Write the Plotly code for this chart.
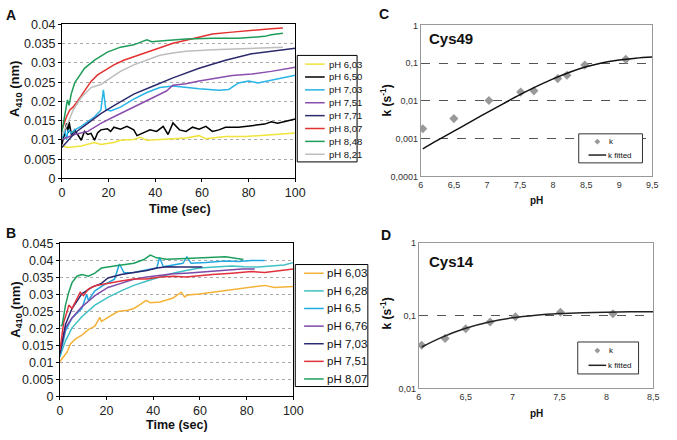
import plotly.graph_objects as go

W, H = 677, 440
FONT = "Liberation Sans"

# ---- panel A : absorbance vs time, Cys49 ----
a_labels = ["pH 6,03", "pH 6,50", "pH 7,03", "pH 7,51", "pH 7,71", "pH 8,07", "pH 8,48", "pH 8,21"]
a_colors = ["#f1e43a", "#000000", "#27b4e6", "#8a4fae", "#2c2a6c", "#e2312f", "#1e9c5a", "#bdbdbd"]
a_t = [
    [0, 2.7, 8.3, 13.9, 16.7, 22.3, 25.1, 30.8, 33.6, 36.4, 42, 47.6, 53.2, 58.8, 61.7, 70.1, 78.5, 86.9, 100],
    [0, 1.3, 2, 2.7, 3.1, 4.1, 5.5, 6.9, 8.3, 9.7, 11.1, 12.5, 14, 15.3, 16.7, 19.5, 20.9, 22.3, 25.1, 27.9,
     30.8, 32.2, 35, 37.8, 40.6, 43.4, 45.5, 47.6, 50.4, 53.2, 56, 58.8, 61.7, 64.5, 67.3, 70.1, 75.7, 81.3,
     86.9, 89.7, 92.5, 100],
    [0, 1.3, 2, 2.7, 4.1, 5.5, 8.3, 11.1, 14, 16.7, 17.8, 18.8, 20.9, 25.1, 30.8, 36.4, 42, 47.6, 53.2, 58.8,
     67.3, 71.5, 75.7, 80, 84, 91, 100],
    [0, 5.5, 11.1, 16.7, 22.3, 28, 33.6, 39.2, 44.8, 47.6, 53.2, 58.8, 64.5, 73, 81.3, 89.7, 100],
    [0, 5.5, 11.1, 16.7, 22.3, 30.8, 39.2, 47.6, 58.8, 70.1, 81.3, 89.7, 100],
    [0, 2, 3.4, 4.8, 6.9, 9.7, 12.5, 15.3, 19.5, 22.3, 26.5, 30.8, 36.4, 42, 47.6, 53.2, 58.8, 64.5, 73, 81.3,
     89.7, 94.7],
    [0, 1.3, 2.4, 3.1, 4, 5.5, 9.7, 14, 19.5, 25.1, 30.8, 36.4, 38.5, 44.8, 53.2, 64.5, 75.7, 86.9, 89.7, 94.7],
    [0, 1.3, 2.7, 4.8, 8.3, 12.5, 16.7, 20.9, 25.1, 30.8, 36.4, 42, 47.6, 53.2, 64.5, 75.7, 84, 94.7],
]
a_v = [
    [0.0084, 0.008, 0.0084, 0.0093, 0.0088, 0.0093, 0.0099, 0.0101, 0.0107, 0.0099, 0.0101, 0.0103, 0.0105,
     0.0111, 0.0103, 0.0109, 0.0109, 0.0112, 0.0118],
    [0.0088, 0.0118, 0.0143, 0.0118, 0.0147, 0.0114, 0.0126, 0.0114, 0.0099, 0.0122, 0.0114, 0.0117, 0.0099,
     0.0118, 0.0126, 0.0129, 0.0122, 0.0133, 0.0128, 0.0135, 0.0126, 0.0111, 0.0118, 0.0126, 0.0122, 0.0135,
     0.0114, 0.0144, 0.0126, 0.0122, 0.0133, 0.0128, 0.0135, 0.0122, 0.0126, 0.0133, 0.0133, 0.0137, 0.0141,
     0.0147, 0.0143, 0.0154],
    [0.0103, 0.0126, 0.0100, 0.0126, 0.0118, 0.0126, 0.0135, 0.0147, 0.016, 0.0177, 0.023, 0.018, 0.0175,
     0.0185, 0.0206, 0.0223, 0.0236, 0.024, 0.0236, 0.0233, 0.0229, 0.0231, 0.0248, 0.0253, 0.0248, 0.0257,
     0.0268],
    [0.0101, 0.0114, 0.0122, 0.0143, 0.016, 0.0177, 0.0194, 0.021, 0.0227, 0.0242, 0.0246, 0.0253, 0.0259,
     0.0267, 0.0271, 0.0278, 0.0289],
    [0.008, 0.0118, 0.0143, 0.0168, 0.0189, 0.0219, 0.024, 0.0261, 0.0286, 0.0307, 0.0324, 0.0331, 0.0338],
    [0.0126, 0.016, 0.0178, 0.0185, 0.0202, 0.0227, 0.0252, 0.0269, 0.0286, 0.0295, 0.0307, 0.0316, 0.0328,
     0.0341, 0.0351, 0.0359, 0.0366, 0.0375, 0.038, 0.0385, 0.0389, 0.0391],
    [0.012, 0.0168, 0.0204, 0.019, 0.0219, 0.0248, 0.0286, 0.0307, 0.0328, 0.0341, 0.0347, 0.036, 0.0355,
     0.0358, 0.0362, 0.0364, 0.0364, 0.0369, 0.0373, 0.0377],
    [0.011, 0.0126, 0.0145, 0.0177, 0.021, 0.0236, 0.0244, 0.0261, 0.0278, 0.0295, 0.0307, 0.032, 0.0326,
     0.033, 0.0334, 0.0337, 0.034, 0.0341],
]

# ---- panel B : absorbance vs time, Cys14 ----
b_labels = ["pH 6,03", "pH 6,28", "pH 6,5", "pH 6,76", "pH 7,03", "pH 7,51", "pH 8,07"]
b_colors = ["#f4b23a", "#3fc0c4", "#22a9e2", "#7b4aa8", "#2a2a70", "#e0313c", "#1e9e5e"]
b_t = [
    [0, 1.7, 3.1, 4.5, 6.6, 9.4, 12.2, 15, 17.1, 17.8, 20.6, 24.8, 29, 31.7, 34.5, 36.9, 38.7, 42.9, 48.5, 52,
     53.4, 54.8, 59.7, 66.7, 73.7, 82.1, 87.7, 91.9, 100],
    [0, 2.4, 5.2, 9.4, 15, 20.6, 26.2, 31.7, 37.3, 42.9, 48.5, 54, 59.7, 68, 73.7, 79, 85, 90.5, 96, 100],
    [0, 2.4, 5.2, 9.4, 11.5, 12.2, 15, 19.2, 23.4, 25.5, 27.5, 31.7, 37.3, 41.5, 42.7, 44.3, 48.5, 52.7, 54.4,
     56.2, 62.5, 71, 76.6, 82.1, 87.7],
    [0, 2.4, 5.2, 9.4, 15, 20.6, 26.2, 31.7, 37.3, 42.9, 48.5, 54, 62.5, 71, 78, 83.5],
    [0, 2.4, 5.2, 9.4, 13.6, 17.8, 20.6, 26.2, 31.7, 37.3, 41.5, 45.7, 51.3, 57, 61],
    [0, 1.7, 3.1, 3.8, 5.2, 6.6, 8.7, 10.1, 12.2, 15, 17.8, 22, 26.2, 31.7, 37.3, 42.9, 48.5, 54, 59.7, 65.3,
     73.7, 82.1, 87.7, 94.7, 100],
    [0.3, 1, 2.4, 3.8, 5.2, 7.3, 9.4, 12.2, 15, 17.8, 23.4, 31.7, 36, 38.7, 41.5, 45.7, 54, 62.5, 71, 78.6],
]
b_v = [
    [0.0102, 0.0116, 0.013, 0.0154, 0.0168, 0.018, 0.0196, 0.0206, 0.0232, 0.022, 0.0232, 0.0249, 0.0253,
     0.0258, 0.027, 0.0282, 0.0275, 0.0277, 0.0289, 0.0306, 0.0292, 0.0298, 0.0301, 0.0307, 0.0313, 0.032,
     0.0326, 0.032, 0.0323],
    [0.0116, 0.0163, 0.0201, 0.0234, 0.0268, 0.0291, 0.031, 0.0326, 0.0339, 0.0351, 0.0362, 0.037, 0.0377,
     0.0381, 0.0383, 0.0381, 0.038, 0.0383, 0.0386, 0.0393],
    [0.0115, 0.0192, 0.023, 0.0258, 0.030, 0.0282, 0.031, 0.0329, 0.0344, 0.0389, 0.0363, 0.0364, 0.0372,
     0.0377, 0.0408, 0.0381, 0.0386, 0.0391, 0.041, 0.0391, 0.0393, 0.0398, 0.0396, 0.0399, 0.0399],
    [0.0125, 0.0201, 0.023, 0.0263, 0.0296, 0.032, 0.0332, 0.0344, 0.0351, 0.0356, 0.036, 0.0362, 0.0367,
     0.037, 0.0374, 0.0374],
    [0.0125, 0.0211, 0.0258, 0.0301, 0.032, 0.0332, 0.0348, 0.0358, 0.0364, 0.037, 0.0377, 0.0381, 0.038,
     0.0381, 0.038],
    [0.0135, 0.022, 0.0249, 0.0268, 0.0258, 0.0277, 0.0306, 0.0296, 0.0315, 0.0325, 0.0329, 0.0334, 0.0339,
     0.0345, 0.0345, 0.0351, 0.0353, 0.0351, 0.0355, 0.0358, 0.0362, 0.0367, 0.0364, 0.037, 0.0374],
    [0.0206, 0.021, 0.0268, 0.0306, 0.0334, 0.0353, 0.0358, 0.0353, 0.0362, 0.0377, 0.0383, 0.0391, 0.0402,
     0.0415, 0.0407, 0.0403, 0.0405, 0.0408, 0.041, 0.0402],
]

# ---- panel C : rate constant vs pH, Cys49 ----
c_ph = [6.03, 6.50, 7.03, 7.51, 7.71, 8.07, 8.21, 8.48, 9.1]
c_k = [0.00184, 0.0034, 0.0103, 0.0171, 0.0185, 0.039, 0.048, 0.089, 0.126]
c_fit_ph = [6.03, 6.25, 6.5, 6.75, 7.0, 7.25, 7.5, 7.75, 8.0, 8.25, 8.5, 8.75, 9.0, 9.25, 9.5]
c_fit_k = [0.00054, 0.0009, 0.00158, 0.0028, 0.0049, 0.0085, 0.0146, 0.0242, 0.0384, 0.0576, 0.08,
           0.1024, 0.1216, 0.1358, 0.1455]

# ---- panel D : rate constant vs pH, Cys14 ----
d_ph = [6.03, 6.28, 6.5, 6.76, 7.03, 7.51, 8.07]
d_k = [0.0394, 0.0489, 0.0664, 0.0824, 0.097, 0.112, 0.107]
d_fit_ph = [6.03, 6.25, 6.5, 6.75, 7.0, 7.25, 7.5, 7.75, 8.0, 8.25, 8.5]
d_fit_k = [0.0372, 0.0509, 0.0673, 0.0822, 0.094, 0.1021, 0.1074, 0.1106, 0.1125, 0.1136, 0.1142]

time_ticks = [0, 20, 40, 60, 80, 100]
a_yticks = [0, 0.005, 0.01, 0.015, 0.02, 0.025, 0.03, 0.035, 0.04]
b_yticks = [0, 0.005, 0.01, 0.015, 0.02, 0.025, 0.03, 0.035, 0.04, 0.045]
c_xticks = [6, 6.5, 7, 7.5, 8, 8.5, 9, 9.5]
c_xtext = ["6", "6,5", "7", "7,5", "8", "8,5", "9", "9,5"]
d_xticks = [6, 6.5, 7, 7.5, 8, 8.5]
d_xtext = ["6", "6,5", "7", "7,5", "8", "8,5"]
c_yticks = [0.0001, 0.001, 0.01, 0.1, 1]
c_ytext = ["0,0001", "0,001", "0,01", "0,1", "1"]
d_yticks = [0.01, 0.1, 1]
d_ytext = ["0,01", "0,1", "1"]
k_labels = ["k", "k fitted"]


def px(x):
    return x / W


def py(y):
    return 1 - y / H


def xd(x0, x1):
    return [px(x0), px(x1)]


def yd(y_top, y_bot):
    return [py(y_bot), py(y_top)]


fig = go.Figure()

for i in range(len(a_labels)):
    fig.add_trace(go.Scatter(x=a_t[i], y=a_v[i], mode="lines", name=a_labels[i],
                             line=dict(color=a_colors[i], width=1.5), xaxis="x", yaxis="y"))
for i in range(len(b_labels)):
    fig.add_trace(go.Scatter(x=b_t[i], y=b_v[i], mode="lines", name=b_labels[i],
                             line=dict(color=b_colors[i], width=1.5), xaxis="x2", yaxis="y2"))

fig.add_trace(go.Scatter(x=c_ph, y=c_k, mode="markers", name=k_labels[0],
                         marker=dict(symbol="diamond", size=7, color="#999999"), xaxis="x3", yaxis="y3"))
fig.add_trace(go.Scatter(x=c_fit_ph, y=c_fit_k, mode="lines", name=k_labels[1], line_shape="spline",
                         line=dict(color="#111111", width=1.5), xaxis="x3", yaxis="y3"))
fig.add_trace(go.Scatter(x=d_ph, y=d_k, mode="markers", name=k_labels[0],
                         marker=dict(symbol="diamond", size=7, color="#999999"), xaxis="x4", yaxis="y4"))
fig.add_trace(go.Scatter(x=d_fit_ph, y=d_fit_k, mode="lines", name=k_labels[1], line_shape="spline",
                         line=dict(color="#222222", width=1.5), xaxis="x4", yaxis="y4"))

tick_font = dict(family=FONT, size=12.5, color="#222")
small_font = dict(family=FONT, size=9, color="#333")


def time_axis(dom, anchor):
    return dict(domain=dom, anchor=anchor, range=[0, 100], tickvals=time_ticks,
                showline=True, linecolor="#000", linewidth=1, mirror=True,
                ticks="outside", ticklen=3, tickcolor="#000", showgrid=False,
                zeroline=False, tickfont=tick_font)


def abs_axis(dom, anchor, ticks, top):
    return dict(domain=dom, anchor=anchor, range=[0, top], tickvals=ticks,
                ticktext=[("%g" % v) for v in ticks],
                showline=True, linecolor="#000", linewidth=1, mirror=True,
                ticks="outside", ticklen=3, tickcolor="#000",
                showgrid=True, gridcolor="#aaaaaa", griddash="dot", gridwidth=1,
                zeroline=False, tickfont=tick_font)


def ph_axis(dom, anchor, vals, text):
    return dict(domain=dom, anchor=anchor, range=[vals[0], vals[-1]], tickvals=vals, ticktext=text,
                showline=True, linecolor="#999", linewidth=1, mirror=True, ticks="",
                showgrid=False, zeroline=False, tickfont=small_font)


def k_axis(dom, anchor, vals, text, rng):
    return dict(domain=dom, anchor=anchor, type="log", range=rng, tickvals=vals, ticktext=text,
                showline=True, linecolor="#999", linewidth=1, mirror=True, ticks="",
                showgrid=True, gridcolor="#555", griddash="dash", gridwidth=1,
                zeroline=False, tickfont=small_font)


fig.update_layout(
    width=W, height=H, margin=dict(l=0, r=0, t=0, b=0),
    paper_bgcolor="white", plot_bgcolor="white", showlegend=False,
    font=dict(family=FONT, color="#111"),
    xaxis=time_axis(xd(60, 298), "y"),
    yaxis=abs_axis(yd(18, 177), "x", a_yticks, 0.04),
    xaxis2=time_axis(xd(58, 296), "y2"),
    yaxis2=abs_axis(yd(244, 402), "x2", b_yticks, 0.045),
    xaxis3=ph_axis(xd(426, 662), "y3", c_xticks, c_xtext),
    yaxis3=k_axis(yd(19, 175), "x3", c_yticks, c_ytext, [-4, 0]),
    xaxis4=ph_axis(xd(424, 663), "y4", d_xticks, d_xtext),
    yaxis4=k_axis(yd(244, 394), "x4", d_yticks, d_ytext, [-2, 0]),
)


def note(text, x, y, size, ang=0, anchor="center"):
    fig.add_annotation(text=text, x=px(x), y=py(y), xref="paper", yref="paper",
                       showarrow=False, textangle=ang, xanchor=anchor, yanchor="middle",
                       font=dict(family=FONT, size=size, color="#111"))


def box(x0, y0, x1, y1, color="#000"):
    fig.add_shape(type="rect", xref="paper", yref="paper", x0=px(x0), x1=px(x1), y0=py(y1), y1=py(y0),
                  line=dict(color=color, width=1), fillcolor="white", layer="above")


def sample_line(x0, x1, y, color):
    fig.add_shape(type="line", xref="paper", yref="paper", x0=px(x0), x1=px(x1), y0=py(y), y1=py(y),
                  line=dict(color=color, width=1.5), layer="above")


def diamond(cx, cy, r, color):
    path = "M %f,%f L %f,%f L %f,%f L %f,%f Z" % (
        px(cx), py(cy - r), px(cx + r), py(cy), px(cx), py(cy + r), px(cx - r), py(cy))
    fig.add_shape(type="path", xref="paper", yref="paper", path=path,
                  fillcolor=color, line=dict(color=color, width=0), layer="above")


# legends drawn as boxes so their compact row spacing matches
box(300, 50, 361, 160)
for i, lab in enumerate(a_labels):
    y = 59 + 13.3 * i
    sample_line(308, 328, y, a_colors[i])
    note(lab, 330, y, 9.5, anchor="left")

box(298, 266, 372, 392)
for i, lab in enumerate(b_labels):
    y = 275 + 18.2 * i
    sample_line(307, 327, y, b_colors[i])
    note(lab, 328, y, 11.5, anchor="left")

for (bx0, by0, bx1, by1) in [(587, 131, 652, 161), (586, 346, 648, 379)]:
    box(bx0, by0, bx1, by1, "#333")
    r1 = by0 + (by1 - by0) * 0.27
    r2 = by0 + (by1 - by0) * 0.73
    diamond(606, r1, 3, "#999999")
    note(k_labels[0], 616, r1, 8, anchor="left")
    sample_line(597, 615, r2, "#222")
    note(k_labels[1], 615, r2, 8, anchor="left")

note("<b>A</b>", 8, 8, 14)
note("<b>B</b>", 8, 233, 14)
note("<b>C</b>", 388, 7, 14)
note("<b>D</b>", 391, 236, 14)
note("<b>A<sub>410</sub> (nm)</b>", 13, 85, 13, -90)
note("<b>Time (sec)</b>", 180, 209, 12.5)
note("<b>A<sub>410</sub> (nm)</b>", 13, 313, 13, -90)
note("<b>Time (sec)</b>", 177, 432, 12.5)
note("<b>k (s<sup>-1</sup>)</b>", 390, 97, 12, -90)
note("<b>pH</b>", 544, 200, 10)
note("<b>k (s<sup>-1</sup>)</b>", 390, 317, 12, -90)
note("<b>pH</b>", 544, 420, 10)
note("<b>Cys49</b>", 432, 33, 15, anchor="left")
note("<b>Cys14</b>", 432, 263, 15, anchor="left")

# the page body keeps a default 8px margin; drop it so the figure fills the window
fig.write_html("out.html", config={"displayModeBar": False},
               post_script="document.body.style.margin='0';")
